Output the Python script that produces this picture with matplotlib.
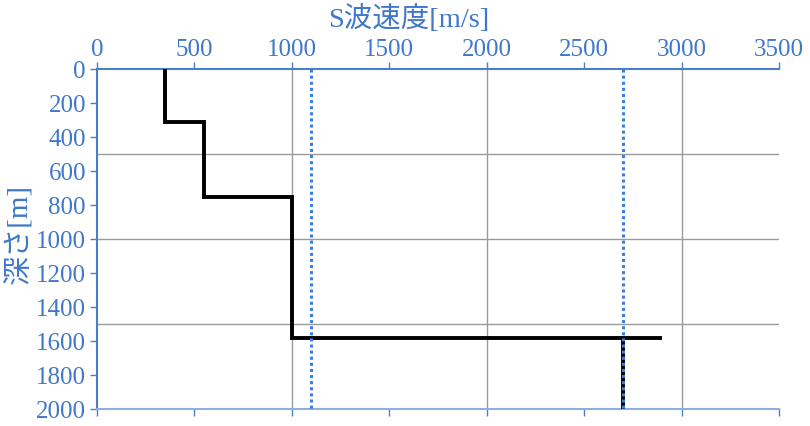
import matplotlib
matplotlib.use("Agg")
import matplotlib.pyplot as plt
from matplotlib.ticker import MultipleLocator

plt.rcParams['font.family'] = ['Liberation Serif', 'Noto Sans CJK JP', 'DejaVu Sans']

# Data
vs_profile = [350, 350, 550, 550, 1000, 1000, 2900]
depth_profile = [0, 310, 310, 750, 750, 1580, 1580]
vs_deep = [2700, 2700]
depth_deep = [1580, 2000]
ref_vs = [1100, 2700]

BLUE_TXT = '#3f78c9'
BLUE_AX = '#4a7fc8'
BLUE_DOT = '#3a7fdc'

fig = plt.figure(figsize=(8.1, 4.26), dpi=100)
ax = fig.add_axes([97/810, 1-409/426, (779-97)/810, (409-69)/426])

ax.set_xlim(0, 3500)
ax.set_ylim(2000, 0)

# grid
for g in [1000, 2000, 3000]:
    ax.axvline(g, color='#9a9a9a', lw=1.0, zorder=1)
for g in [500, 1000, 1500]:
    ax.axhline(g, color='#9a9a9a', lw=1.0, zorder=1)

ax.plot(vs_profile, depth_profile, color='black', lw=2.8, zorder=3, solid_capstyle='butt', solid_joinstyle='miter')
ax.plot(vs_deep, depth_deep, color='black', lw=2.8, zorder=3, solid_capstyle='butt')
for v in ref_vs:
    ax.plot([v, v], [0, 2000], color=BLUE_DOT, lw=2.2, linestyle=(0, (1, 1)), zorder=4)

ax.xaxis.set_major_locator(MultipleLocator(500))
ax.yaxis.set_major_locator(MultipleLocator(200))
ax.xaxis.tick_top()
ax.tick_params(axis='x', which='major', top=True, bottom=True, labeltop=True, labelbottom=False,
               direction='out', length=5, width=1, color=BLUE_AX, labelcolor=BLUE_TXT, labelsize=18, pad=1)
ax.tick_params(axis='y', direction='out', length=5, width=1, color=BLUE_AX, labelcolor=BLUE_TXT, labelsize=18, pad=3)

ax.spines['right'].set_visible(False)
ax.spines['top'].set_color(BLUE_AX)
ax.spines['top'].set_linewidth(1.5)
ax.spines['left'].set_color(BLUE_AX)
ax.spines['left'].set_linewidth(1.5)
ax.spines['bottom'].set_color('#8db0e0')
ax.spines['bottom'].set_linewidth(1.5)

fig.text(409/810, 1-19/426, 'S波速度[m/s]', color=BLUE_TXT, fontsize=20.5, ha='center', va='center')
fig.text(19/810, 1-234/426, '深さ[m]', color=BLUE_TXT, fontsize=21, ha='center', va='center', rotation=90)

fig.savefig('out.png', dpi=100)
